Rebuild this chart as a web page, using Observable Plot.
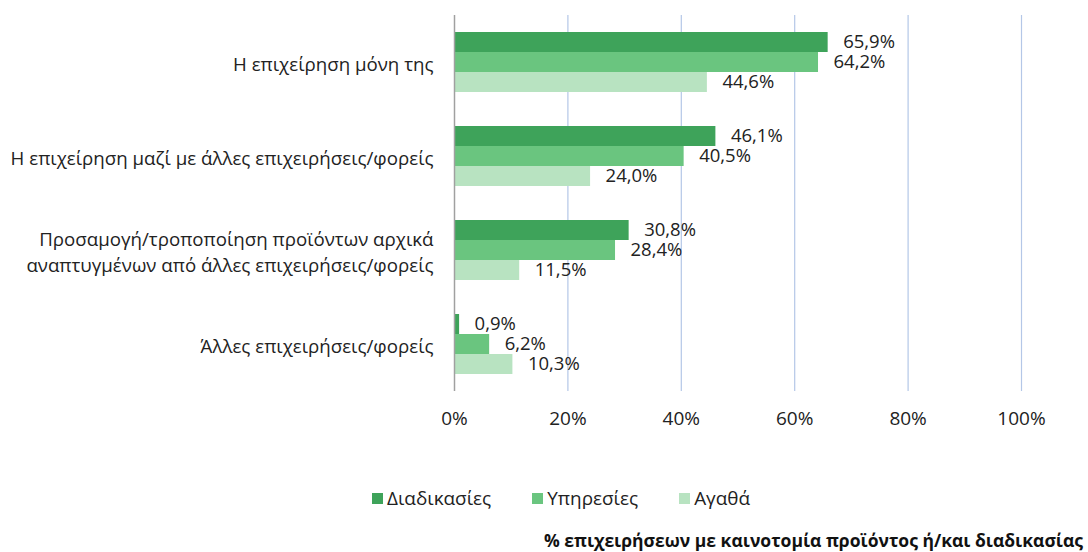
<!DOCTYPE html>
<html><head><meta charset="utf-8">
<script src="https://cdn.jsdelivr.net/npm/d3@7"></script>
<script src="https://cdn.jsdelivr.net/npm/@observablehq/plot@0.6"></script>
<style>
body{margin:0;background:#fff;font-family:"Open Sans",sans-serif;}
#chart{height:440px;}
#chart svg{display:block;}
.legend{display:flex;padding-left:372px;margin-top:45px;height:26px;line-height:26px;font-size:18.9px;color:#222;}
.legend .it{display:flex;align-items:center;margin-right:41px;}
.legend .sw{width:11px;height:11px;margin-right:4px;}
.caption{margin-top:18px;text-align:right;padding-right:5px;font-weight:bold;font-size:17.5px;line-height:22px;color:#111;}
</style></head>
<body><div id="chart"></div>
<div class="legend" id="legend"></div>
<div class="caption">% επιχειρήσεων με καινοτομία προϊόντος ή/και διαδικασίας</div>
<script>
const categories = [
  "Η επιχείρηση μόνη της",
  "Η επιχείρηση μαζί με άλλες επιχειρήσεις/φορείς",
  "Προσαμογή/τροποποίηση προϊόντων αρχικά\nαναπτυγμένων από άλλες επιχειρήσεις/φορείς",
  "Άλλες επιχειρήσεις/φορείς"
];
const series = ["Διαδικασίες", "Υπηρεσίες", "Αγαθά"];
const diadikasies = [65.9, 46.1, 30.8, 0.9];
const ypiresies = [64.2, 40.5, 28.4, 6.2];
const agatha = [44.6, 24.0, 11.5, 10.3];
const xTicks = [0, 20, 40, 60, 80, 100];
const gridTicks = [20, 40, 60, 80, 100];
const colors = ["#3ea35a", "#6ac57f", "#b8e3c1"];

const seriesValues = [diadikasies, ypiresies, agatha];
const data = [];
categories.forEach((c, i) => series.forEach((s, j) => data.push({category: c, series: s, value: seriesValues[j][i]})));

const fmt = v => v.toFixed(1).replace(".", ",") + "%";

const chart = Plot.plot({
  width: 1088,
  height: 440,
  marginLeft: 454,
  marginRight: 67,
  marginTop: 14,
  marginBottom: 48,
  style: {fontFamily: "'Open Sans', sans-serif", fontSize: "19px", color: "#222", background: "#fff"},
  facet: {data, y: "category"},
  fy: {domain: categories, padding: 0, axis: null},
  y: {domain: series, paddingInner: 0.02, paddingOuter: 0.78, axis: null},
  x: {domain: [0, 100], ticks: xTicks, tickFormat: d => d + "%", tickSize: 0, tickPadding: 20, label: null},
  color: {domain: series, range: colors},
  marks: [
    Plot.ruleX(gridTicks, {stroke: "#b4c7e7", strokeWidth: 1.2}),
    Plot.barX(data, {x: "value", y: "series", fill: "series"}),
    Plot.ruleX([0], {stroke: "#a0a0a0", strokeWidth: 1.5}),
    Plot.text(data, {x: "value", y: "series", text: d => fmt(d.value), textAnchor: "start", dx: 15, fill: "#222", fontSize: 18.5}),
    Plot.text(data, {filter: d => d.series === series[1], y: "series", text: "category", frameAnchor: "left", dx: -21, textAnchor: "end", lineHeight: 1.37, fill: "#222", fontSize: 18.7})
  ]
});
document.getElementById("chart").appendChild(chart);

const leg = document.getElementById("legend");
series.forEach((s, j) => {
  const it = document.createElement("div"); it.className = "it";
  const sw = document.createElement("div"); sw.className = "sw"; sw.style.background = colors[j];
  const tx = document.createElement("span"); tx.textContent = s;
  it.appendChild(sw); it.appendChild(tx); leg.appendChild(it);
});
</script></body></html>
